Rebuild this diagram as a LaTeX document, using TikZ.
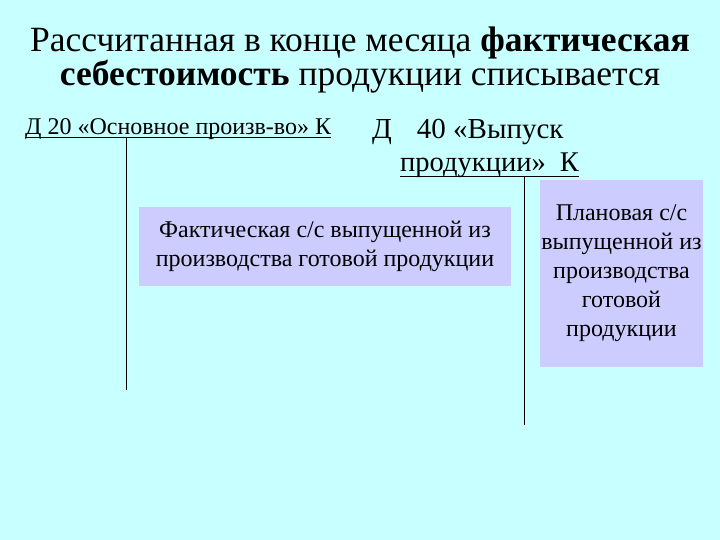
\documentclass[tikz,border=0pt]{standalone}
\usepackage{fontspec}
\setmainfont{Liberation Serif}
\definecolor{bgc}{RGB}{200,255,255}
\definecolor{boxc}{RGB}{204,204,255}
\newcommand{\myul}[2]{\setbox0\hbox{#2}\rlap{\rule[-#1]{\wd0}{0.8pt}}\box0}
\begin{document}
\begin{tikzpicture}[x=1pt,y=-1pt,
  boxst/.style={fill=boxc,inner sep=0pt,align=center,text=black},
  tline/.style={line width=0.8pt}]
\fill[bgc] (0,0) rectangle (720,540);
\useasboundingbox (0,0) rectangle (720,540);
\node[align=center,font=\fontsize{35.5}{28}\selectfont] (title) at (360,60)
  {Рассчитанная в конце месяца \textbf{фактическая}\\ \textbf{себестоимость} продукции списывается};
\node[anchor=base west,inner sep=0pt,font=\fontsize{24}{28}\selectfont] (acc20) at (25,135)
  {\myul{2.5pt}{Д 20 «Основное произв-во» К}};
\node[anchor=base west,inner sep=0pt,font=\fontsize{29}{34}\selectfont] (acc40a) at (372,139)
  {Д\hspace{25pt}40 «Выпуск};
\node[anchor=base west,inner sep=0pt,font=\fontsize{28.5}{34}\selectfont] (acc40b) at (400,172)
  {\myul{4.5pt}{продукции»\ \ К}};
\coordinate (l1top) at (126,137);
\coordinate (l1bot) at (126,390);
\coordinate (l2top) at (524,176);
\coordinate (l2bot) at (524,425);
\draw[tline] (l1top) -- (l1bot);
\draw[tline] (l2top) -- (l2bot);
\node[boxst,minimum width=372pt,minimum height=79pt,font=\fontsize{24}{29}\selectfont] (box1) at (325,246.5)
  {Фактическая с/с выпущенной из\\производства готовой продукции};
\node[boxst,minimum width=163pt,minimum height=187pt,font=\fontsize{24}{29}\selectfont] (box2) at (621.5,273.5)
  {Плановая с/с\\выпущенной из\\производства\\готовой\\продукции};
\end{tikzpicture}
\end{document}
